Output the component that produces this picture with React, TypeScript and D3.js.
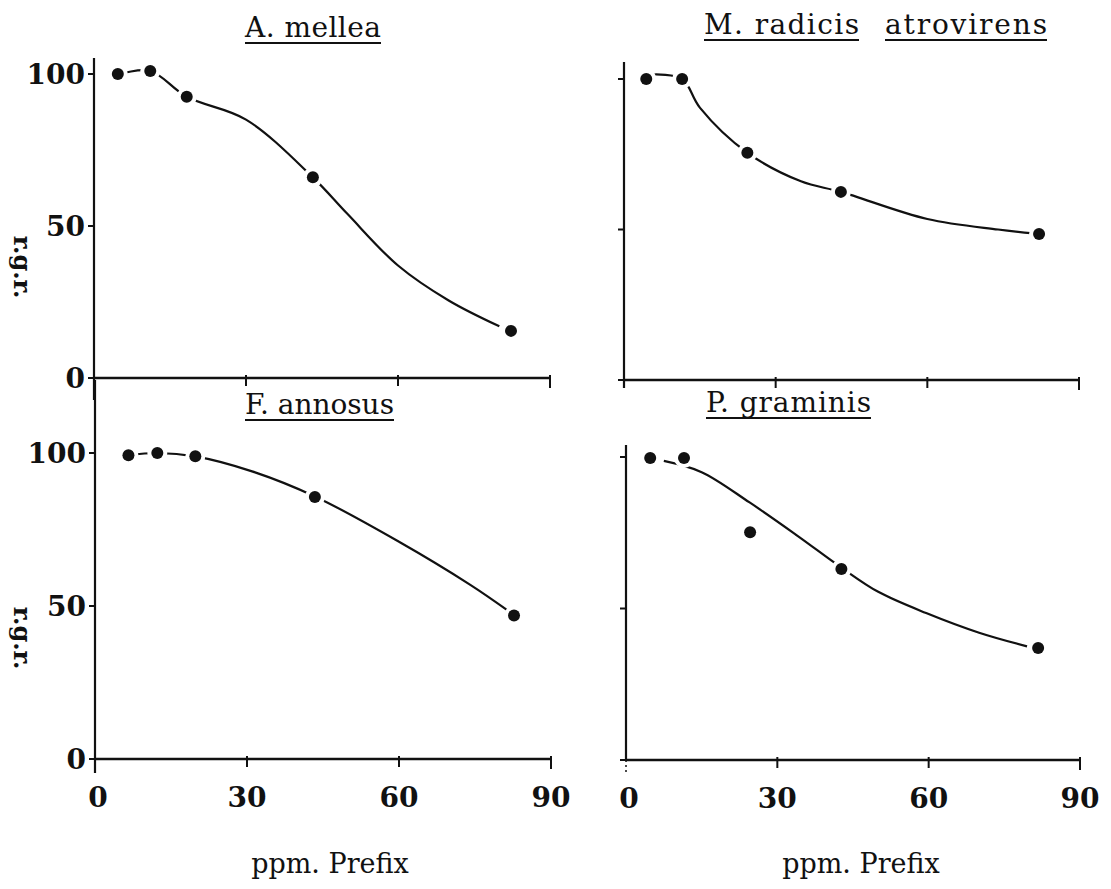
import React from 'react';
import * as d3 from 'd3';

// tick values and labels shared by the four panels
const xTicks = [0, 30, 60, 90];
const xTickLabels = ['0', '30', '60', '90'];
const yTicks = [0, 50, 100];
const yTickLabels = ['0', '50', '100'];

// measured points (ppm Prefix vs r.g.r.)
const melleaX = [4.7, 11.1, 18.3, 43.2, 82.3];
const melleaY = [100, 101, 92.5, 66, 15.5];
const radicisX = [4.4, 11.5, 24.4, 42.9, 82.1];
const radicisY = [100, 100, 75.5, 62.5, 48.5];
const annosusX = [6.6, 12.3, 19.8, 43.4, 82.7];
const annosusY = [99.3, 100, 98.9, 85.6, 46.9];
const graminisX = [4.8, 11.5, 24.6, 42.7, 81.7];
const graminisY = [99.7, 99.7, 75.2, 63, 37];

// fitted curves
const melleaFitX = [5, 11.1, 18.3, 30, 43.2, 50, 60, 70, 80];
const melleaFitY = [100, 101, 92.5, 85, 66, 54, 37, 25.5, 17];
const radicisFitX = [6, 11.5, 15, 24.4, 35, 42.9, 60, 74, 81];
const radicisFitY = [101.5, 100, 90.5, 75.5, 66, 62.5, 53.5, 50, 48.7];
const annosusFitX = [6.6, 12.3, 19.8, 31, 43.4, 60, 74, 81.5];
const annosusFitY = [99.3, 100, 98.9, 94, 85.8, 71, 57, 48.5];
const graminisFitX = [7.5, 15, 24.5, 34, 42.7, 50, 59.5, 70, 79.5];
const graminisFitY = [98.7, 95, 85, 74, 63.5, 55.5, 48.5, 42, 37.5];

const panels = [
  {
    key: 'mellea', titles: [{ text: 'A. mellea', x1: 245, x2: 381 }], titleY: 37,
    xr: [94, 550], yr: [378, 74], axisTop: 58, axisBottom: 400,
    xs: melleaX, ys: melleaY, fx: melleaFitX, fy: melleaFitY,
    yLabels: true, xLabels: false,
  },
  {
    key: 'radicis', titles: [{ text: 'M. radicis', x1: 704, x2: 859 }, { text: 'atrovirens', x1: 885, x2: 1047 }], titleY: 34,
    xr: [624, 1079], yr: [380, 79], axisTop: 62, axisBottom: 388,
    xs: radicisX, ys: radicisY, fx: radicisFitX, fy: radicisFitY,
    yLabels: false, xLabels: false,
  },
  {
    key: 'annosus', titles: [{ text: 'F. annosus', x1: 245, x2: 394 }], titleY: 414,
    xr: [95, 551], yr: [759, 453], axisTop: 380, axisBottom: 773,
    xs: annosusX, ys: annosusY, fx: annosusFitX, fy: annosusFitY,
    yLabels: true, xLabels: true,
  },
  {
    key: 'graminis', titles: [{ text: 'P. graminis', x1: 706, x2: 871 }], titleY: 412,
    xr: [626, 1080], yr: [760, 457], axisTop: 445, axisBottom: 760,
    xs: graminisX, ys: graminisY, fx: graminisFitX, fy: graminisFitY,
    yLabels: false, xLabels: true,
  },
];

const serif = '"DejaVu Serif", "Liberation Serif", serif';

function Panel({ p }: { p: any }) {
  const x = d3.scaleLinear().domain([0, 90]).range(p.xr);
  const y = d3.scaleLinear().domain([0, 100]).range(p.yr);
  const fit = p.fx.map((v: number, i: number) => [v, p.fy[i]]);
  const line = d3.line<number[]>()
    .x(d => x(d[0]))
    .y(d => y(d[1]))
    .curve(d3.curveCatmullRom.alpha(0.5));
  const x0 = x(0);
  const yb = y(0);

  return (
    <g>
      {p.titles.map((t: any) => (
        <g key={t.text}>
          <text x={t.x1} y={p.titleY} textLength={t.x2 - t.x1} lengthAdjust="spacing"
            fontFamily={serif} fontSize={28} fill="#111">{t.text}</text>
          <line x1={t.x1} x2={t.x2} y1={p.titleY + 6} y2={p.titleY + 6} stroke="#111" strokeWidth={2} />
        </g>
      ))}

      {/* axes */}
      <line x1={x0} x2={x0} y1={p.axisTop} y2={p.axisBottom} stroke="#111" strokeWidth={2.2} />
      {p.key === 'graminis' && (
        <line x1={x0} x2={x0} y1={yb} y2={yb + 14} stroke="#111" strokeWidth={1.5} strokeDasharray="2,3" />
      )}
      <line x1={x0} x2={x(90)} y1={yb} y2={yb} stroke="#111" strokeWidth={2.4} />
      {xTicks.slice(1).map(t => (
        <line key={t} x1={x(t)} x2={x(t)} y1={yb - 3} y2={yb + (t === 90 ? 10 : 8)} stroke="#111" strokeWidth={2} />
      ))}
      {yTicks.map(t => (
        <line key={t} x1={x0 - 6} x2={x0} y1={y(t)} y2={y(t)} stroke="#111" strokeWidth={2} />
      ))}

      {p.yLabels && yTicks.map((t, i) => (
        <text key={t} x={x0 - 9} y={y(t)} dy="0.36em" textAnchor="end"
          fontFamily={serif} fontWeight="bold" fontSize={28} fill="#111">{yTickLabels[i]}</text>
      ))}
      {p.xLabels && xTicks.map((t, i) => (
        <text key={t} x={x(t) + (i === 0 ? 3 : 0)} y={yb + 48} textAnchor="middle"
          fontFamily={serif} fontWeight="bold" fontSize={28} fill="#111">{xTickLabels[i]}</text>
      ))}

      {/* fitted curve */}
      <path d={line(fit) || ''} fill="none" stroke="#111" strokeWidth={2.2} />

      {/* measured points with a white halo so the curve breaks around them */}
      {p.xs.map((v: number, i: number) => (
        <g key={i}>
          <circle cx={x(v)} cy={y(p.ys[i])} r={10} fill="#fff" />
          <circle cx={x(v)} cy={y(p.ys[i])} r={6} fill="#111" />
        </g>
      ))}
    </g>
  );
}

export default function App() {
  return (
    <div style={{ position: 'absolute', left: 0, top: 0 }}>
      <svg width={1111} height={889} style={{ display: 'block', background: '#fff' }}>
        {panels.map(p => <Panel key={p.key} p={p} />)}

        {/* y axis titles */}
        <text transform="translate(14,267) rotate(90)" textAnchor="middle"
          fontFamily={serif} fontWeight="bold" fontSize={24} fill="#111">r.g.r.</text>
        <text transform="translate(14,638) rotate(90)" textAnchor="middle"
          fontFamily={serif} fontWeight="bold" fontSize={24} fill="#111">r.g.r.</text>

        {/* x axis titles */}
        <text x={330} y={873} textAnchor="middle" fontFamily={serif} fontSize={27} fill="#111">ppm. Prefix</text>
        <text x={861} y={873} textAnchor="middle" fontFamily={serif} fontSize={27} fill="#111">ppm. Prefix</text>
      </svg>
    </div>
  );
}
